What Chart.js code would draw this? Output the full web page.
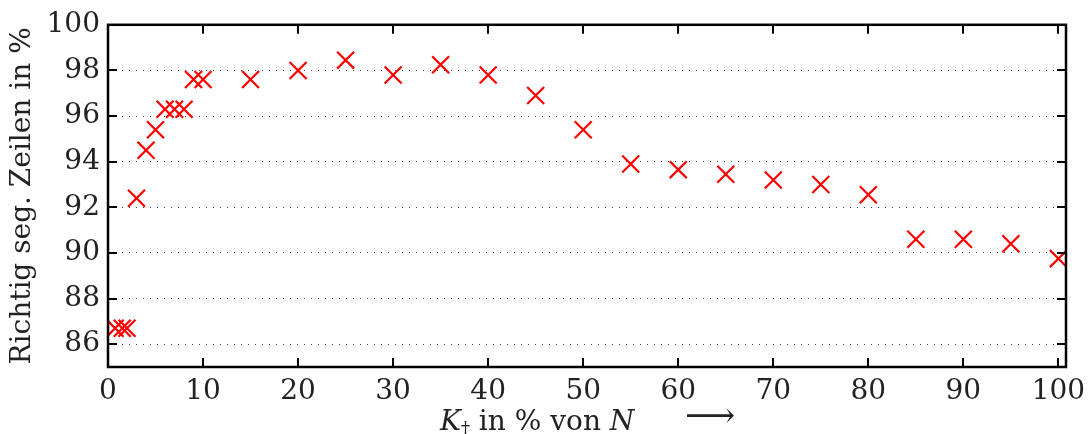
<!DOCTYPE html>
<html>
<head>
<meta charset="utf-8">
<script src="https://cdn.jsdelivr.net/npm/chart.js@4"></script>
<style>
  html, body { margin: 0; padding: 0; background: #fff; }
  #wrap { width: 1088px; height: 434px; }
</style>
</head>
<body>
<div id="wrap"><canvas id="chart" width="1088" height="434"></canvas></div>
<script>
// --- data ---
const xValues = [0.75, 1.5, 2, 3, 4, 5, 6, 7, 8, 9, 10, 15, 20, 25, 30, 35, 40, 45, 50, 55, 60, 65, 70, 75, 80, 85, 90, 95, 100];
const yValues = [86.7, 86.7, 86.7, 92.4, 94.5, 95.4, 96.3, 96.3, 96.3, 97.6, 97.6, 97.6, 98.0, 98.45, 97.8, 98.25, 97.8, 96.9, 95.4, 93.9, 93.65, 93.45, 93.2, 93.0, 92.55, 90.6, 90.6, 90.4, 89.75];
const xTicks = [0, 10, 20, 30, 40, 50, 60, 70, 80, 90, 100];
const yTicks = [86, 88, 90, 92, 94, 96, 98, 100];

const FONT = "'DejaVu Serif', serif";
const SIZE = 28;
const TXT = '#222';

// --- box with inward ticks (MATLAB style) ---
const boxPlugin = {
    id: 'box',
    afterDraw(chart) {
        const { ctx, chartArea: a, scales } = chart;
        const len = 9;
        ctx.save();
        ctx.strokeStyle = '#000';
        ctx.lineWidth = 2.5;
        ctx.strokeRect(a.left, a.top, a.right - a.left, a.bottom - a.top);
        ctx.lineWidth = 2;
        ctx.beginPath();
        xTicks.forEach(v => {
            const px = Math.round(scales.x.getPixelForValue(v));
            ctx.moveTo(px, a.bottom); ctx.lineTo(px, a.bottom - len);
            ctx.moveTo(px, a.top); ctx.lineTo(px, a.top + len);
        });
        yTicks.forEach(v => {
            const py = Math.round(scales.y.getPixelForValue(v));
            ctx.moveTo(a.left, py); ctx.lineTo(a.left + len, py);
            ctx.moveTo(a.right, py); ctx.lineTo(a.right - len, py);
        });
        ctx.stroke();
        ctx.restore();
    }
};

// --- x axis label: K_t in % von N  --> (mixed italic / subscript) ---
const xLabelPlugin = {
    id: 'xLabel',
    afterDraw(chart) {
        const ctx = chart.ctx;
        const base = 430;
        let x = 440;
        const parts = [
            { t: 'K', f: 'italic ' + SIZE + 'px ' + FONT, dy: 0 },
            { t: '\u2020', f: '18px ' + FONT, dy: 5 },
            { t: ' in % von ', f: SIZE + 'px ' + FONT, dy: 0 },
            { t: 'N', f: 'italic ' + SIZE + 'px ' + FONT, dy: 0 }
        ];
        ctx.save();
        ctx.fillStyle = TXT;
        ctx.textBaseline = 'alphabetic';
        ctx.textAlign = 'left';
        ctx.wordSpacing = '7px';
        parts.forEach(p => {
            ctx.font = p.f;
            ctx.fillText(p.t, x, base + p.dy);
            x += ctx.measureText(p.t).width;
        });
        ctx.wordSpacing = '0px';
        ctx.font = '35px ' + FONT;
        ctx.fillText('\u27F6', 685, base - 3);
        ctx.restore();
    }
};

new Chart(document.getElementById('chart'), {
    type: 'scatter',
    data: {
        datasets: [{
            data: xValues.map((x, i) => ({ x: x, y: yValues[i] })),
            pointStyle: 'crossRot',
            pointRadius: 12,
            pointHoverRadius: 12,
            borderColor: '#ff0000',
            backgroundColor: '#ff0000',
            pointBorderWidth: 2.2
        }]
    },
    options: {
        responsive: false,
        animation: false,
        layout: { padding: { top: 22, right: 22, left: 0, bottom: 0 } },
        plugins: { legend: { display: false }, tooltip: { enabled: false } },
        scales: {
            x: {
                type: 'linear',
                min: 0,
                max: 100.8,
                afterBuildTicks: s => { s.ticks = xTicks.map(v => ({ value: v })); },
                afterFit: s => { s.height = 67; },
                grid: { display: false },
                border: { display: false },
                ticks: { color: TXT, font: { family: FONT, size: SIZE }, padding: 0, maxRotation: 0 }
            },
            y: {
                min: 85,
                max: 100,
                afterBuildTicks: s => { s.ticks = yTicks.map(v => ({ value: v })); },
                afterFit: s => { s.width = 108; },
                grid: { color: '#444', lineWidth: 1, drawTicks: false },
                border: { display: false, dash: [1, 6] },
                ticks: { color: TXT, font: { family: FONT, size: SIZE }, padding: 8 },
                title: {
                    display: true,
                    text: 'Richtig seg. Zeilen in %',
                    color: TXT,
                    font: { family: FONT, size: SIZE },
                    padding: { top: 6, bottom: 0 }
                }
            }
        }
    },
    plugins: [boxPlugin, xLabelPlugin]
});
</script>
</body>
</html>
